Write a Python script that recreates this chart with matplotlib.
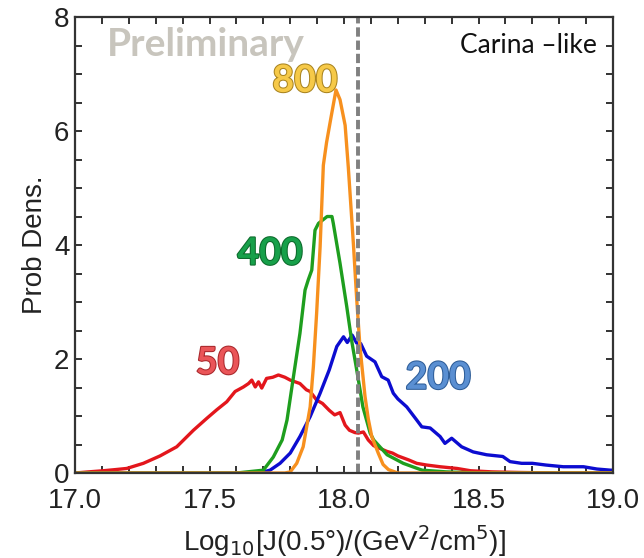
import matplotlib
matplotlib.use('Agg')
import matplotlib.pyplot as plt
import matplotlib.patheffects as pe
from matplotlib.ticker import MultipleLocator

# curves: x = log10 J, y = probability density
x_50 = [17.0, 17.05, 17.105, 17.15, 17.192, 17.254, 17.316, 17.378, 17.44, 17.49, 17.527, 17.564,
        17.595, 17.626, 17.645, 17.657, 17.67, 17.682, 17.694, 17.712, 17.735, 17.756, 17.78, 17.80,
        17.836, 17.86, 17.874, 17.898, 17.92, 17.945, 17.965, 17.985, 18.004, 18.02, 18.04, 18.053,
        18.072, 18.09, 18.11, 18.134, 18.159, 18.18, 18.2, 18.24, 18.27, 18.307, 18.357, 18.42,
        18.47, 18.55, 18.65, 18.8, 19.0]
y_50 = [0.0, 0.02, 0.04, 0.06, 0.08, 0.17, 0.30, 0.46, 0.75, 0.96, 1.11, 1.25,
        1.43, 1.51, 1.57, 1.63, 1.51, 1.60, 1.49, 1.66, 1.68, 1.72, 1.68, 1.63,
        1.57, 1.46, 1.43, 1.28, 1.22, 1.10, 1.02, 1.06, 0.84, 0.75, 0.71, 0.70,
        0.72, 0.58, 0.48, 0.43, 0.38, 0.35, 0.30, 0.23, 0.17, 0.14, 0.11, 0.08,
        0.04, 0.02, 0.01, 0.0, 0.0]

x_200 = [17.0, 17.65, 17.70, 17.725, 17.762, 17.80, 17.836, 17.874, 17.911, 17.945, 17.973, 17.998,
         18.012, 18.03, 18.047, 18.062, 18.084, 18.115, 18.14, 18.164, 18.183, 18.2, 18.233, 18.27,
         18.289, 18.32, 18.357, 18.375, 18.40, 18.437, 18.48, 18.53, 18.59, 18.617, 18.66, 18.70,
         18.75, 18.815, 18.89, 18.94, 18.99, 19.0]
y_200 = [0.0, 0.0, 0.02, 0.05, 0.17, 0.35, 0.64, 0.99, 1.40, 1.81, 2.22, 2.39,
         2.29, 2.42, 2.28, 2.27, 2.05, 1.95, 1.69, 1.63, 1.40, 1.30, 1.16, 0.93,
         0.81, 0.79, 0.64, 0.52, 0.61, 0.46, 0.37, 0.32, 0.29, 0.20, 0.17, 0.17,
         0.14, 0.11, 0.11, 0.07, 0.05, 0.05]

x_400 = [17.0, 17.6, 17.70, 17.737, 17.77, 17.788, 17.81, 17.836, 17.855, 17.867, 17.88, 17.892,
         17.905, 17.937, 17.955, 17.96, 17.985, 18.01, 18.028, 18.047, 18.07, 18.097, 18.11, 18.16,
         18.22, 18.29, 18.38, 18.5, 19.0]
y_400 = [0.0, 0.0, 0.05, 0.28, 0.58, 0.93, 1.63, 2.45, 3.21, 3.39, 3.56, 4.26,
         4.38, 4.50, 4.50, 4.38, 3.68, 2.92, 2.33, 1.81, 1.16, 0.70, 0.58, 0.32,
         0.17, 0.05, 0.02, 0.0, 0.0]

x_800 = [17.0, 17.78, 17.80, 17.824, 17.848, 17.874, 17.886, 17.898, 17.911, 17.923, 17.935, 17.95,
         17.97, 17.985, 18.004, 18.016, 18.035, 18.047, 18.059, 18.078, 18.09, 18.103, 18.127, 18.145,
         18.165, 18.2, 19.0]
y_800 = [0.0, 0.0, 0.02, 0.17, 0.46, 1.16, 1.87, 2.8, 3.97, 5.4, 5.8, 6.2,
         6.72, 6.55, 6.1, 5.35, 4.0, 3.05, 2.22, 1.34, 0.95, 0.64, 0.35, 0.15,
         0.06, 0.0, 0.0]

j_ref = 18.05   # dashed reference value

plt.rcParams['font.family'] = ['Liberation Sans', 'DejaVu Sans']

fig = plt.figure(figsize=(6.44, 5.58), dpi=100)
ax = fig.add_axes([0.1165, 0.1523, 0.8355, 0.8172])

ax.plot(x_50, y_50, color='#e3161c', lw=2.4)
ax.plot(x_200, y_200, color='#0c0cd0', lw=2.4)
ax.plot(x_400, y_400, color='#1e9e1e', lw=2.4)
ax.plot(x_800, y_800, color='#f7901e', lw=2.4)
ax.axvline(j_ref, color='#808080', lw=2.8, ls=(0, (2.4, 1.0)))

ax.set_xlim(17.0, 19.0)
ax.set_ylim(0, 8)
ax.xaxis.set_major_locator(MultipleLocator(0.5))
ax.xaxis.set_minor_locator(MultipleLocator(0.1))
ax.yaxis.set_major_locator(MultipleLocator(2))
ax.yaxis.set_minor_locator(MultipleLocator(0.5))
ax.xaxis.set_major_formatter(lambda v, p: f'{v:.1f}')
ax.tick_params(which='both', direction='in', top=True, right=True, length=5, width=1.3,
               color='#222222', labelsize=20, labelcolor='#222222')
ax.tick_params(axis='x', pad=11)
ax.tick_params(axis='y', pad=4)
for s in ax.spines.values():
    s.set_linewidth(1.6)
    s.set_color('#333333')

ax.set_xlabel('Log$_{10}$[J(0.5°)/(GeV$^2$/cm$^5$)]', fontsize=20, color='#222222', labelpad=6)
ax.set_ylabel('Prob Dens.', fontsize=20, color='#222222', labelpad=4)

lab = dict(fontsize=27, fontweight='bold', family=['Lato', 'DejaVu Sans'], ha='center', va='center')
ax.text(17.855, 6.88, '800', color='#f6c948',
        path_effects=[pe.withStroke(linewidth=1.5, foreground='#a98420')], **lab)
ax.text(17.725, 3.85, '400', color='#17a04a',
        path_effects=[pe.withStroke(linewidth=1.5, foreground='#0d6a2c')], **lab)
ax.text(17.53, 1.93, '50', color='#ea5558',
        path_effects=[pe.withStroke(linewidth=1.5, foreground='#a8282c')], **lab)
ax.text(18.35, 1.67, '200', color='#5a8fd2',
        path_effects=[pe.withStroke(linewidth=1.5, foreground='#2e5d98')], **lab)

ax.text(17.487, 7.52, 'Preliminary', color='#c8c5bd', fontsize=28, fontweight='bold',
        family=['Lato', 'DejaVu Sans'], ha='center', va='center')
ax.text(18.94, 7.5, 'Carina \u2013like', color='#111111', fontsize=19,
        family=['Lato', 'DejaVu Sans'], ha='right', va='center')

fig.savefig('out.png', dpi=100)
